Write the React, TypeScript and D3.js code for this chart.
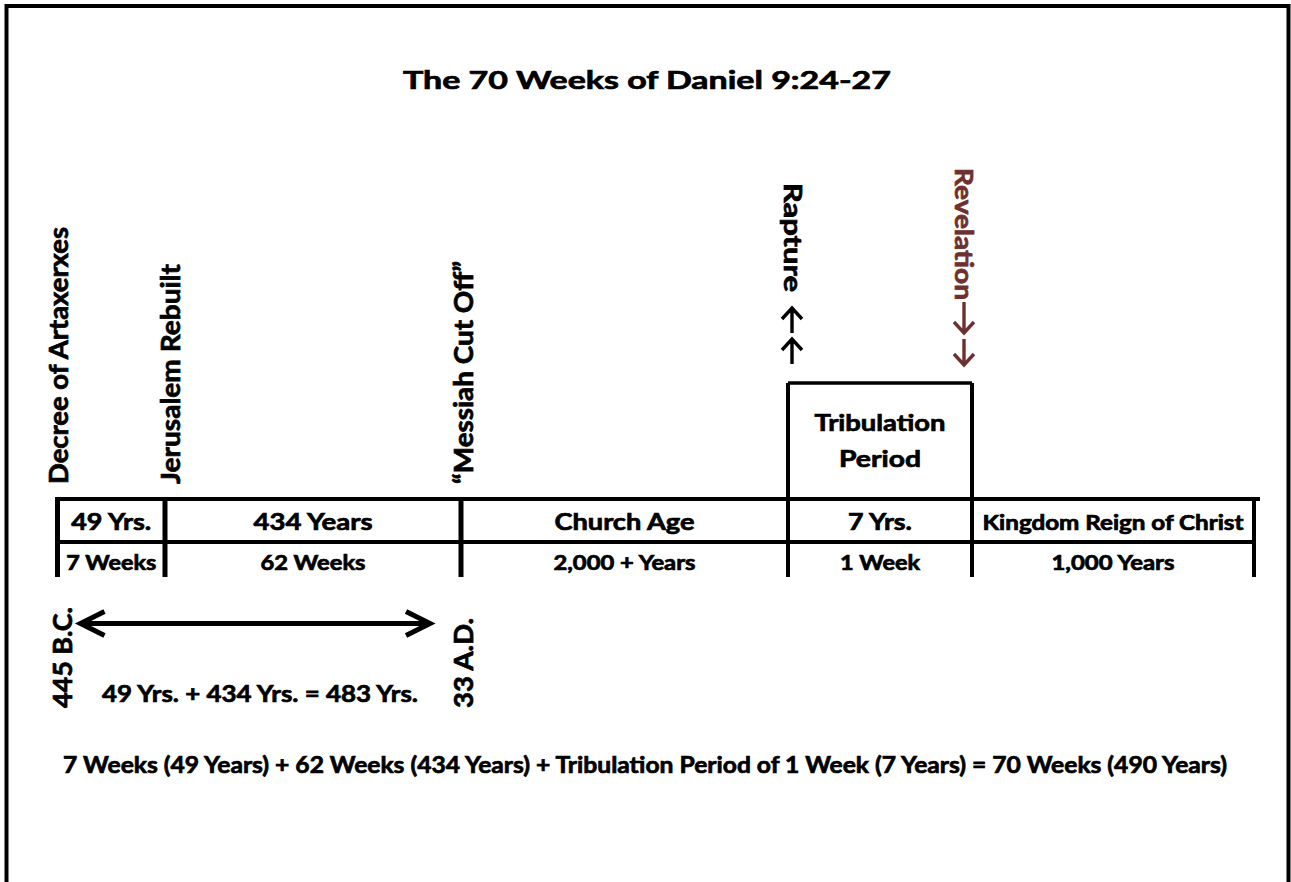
import * as d3 from "d3";

// timeline boundaries (index of each division line)
const boundaries = [0, 1, 2, 3, 4, 5];
const periodTop = ["49 Yrs.", "434 Years", "Church Age", "7 Yrs.", "Kingdom Reign of Christ"];
const periodBottom = ["7 Weeks", "62 Weeks", "2,000 + Years", "1 Week", "1,000 Years"];
const eventLabels = ["Decree of Artaxerxes", "Jerusalem Rebuilt", "\u201CMessiah Cut Off\u201D"];
const eventAt = [0, 1, 2];
const dateLabels = ["445 B.C.", "33 A.D."];
const dateAt = [0, 2];
const title = "The 70 Weeks of Daniel 9:24-27";
const sumLabel = "49 Yrs. + 434 Yrs. = 483 Yrs.";
const totalLabel =
  "7 Weeks (49 Years) + 62 Weeks (434 Years) + Tribulation Period of 1 Week (7 Years) = 70 Weeks (490 Years)";
const tribLabel = ["Tribulation", "Period"];

const W = 1291;
const H = 882;
const FONT = "Lato, 'Open Sans', sans-serif";
const RED = "#6e302e";
const TS = 0.7; // extra stroke to thicken glyphs

const x = d3.scaleLinear().domain(boundaries).range([57.5, 165, 461, 788, 972, 1254]);

const topW = [80, 119, 140, 64, 261];
const botW = [90, 105, 142, 80, 123];
const eventDx = [10.5, 15, 12];
const eventLen = [257, 220, 223];
const dateDx = [14.5, 12];
const dateLen = [101, 90];

const yTop = 499;
const yMid = 542;
const yBot = 577;
const yBox = 383;

// chevron arrow, dir = -1 up, 1 down
const arrowPath = (cx: number, y0: number, y1: number, dir: number) => {
  const tip = dir < 0 ? y0 : y1;
  const tail = dir < 0 ? y1 : y0;
  const h = 11;
  return `M${cx},${tail}V${tip}M${cx - 10},${tip - dir * h}L${cx},${tip}L${cx + 10},${tip - dir * h}`;
};

export default function App() {
  const mids = periodTop.map((_, i) => (x(i) + x(i + 1)) / 2);
  const ax0 = x(0) + 23;
  const ax1 = x(2) - 31;
  const ay = 623.5;

  return (
    <svg
      width={W}
      height={H}
      style={{ position: "absolute", left: 0, top: 0, background: "#fff", display: "block" }}
      fontFamily={FONT}
      fontWeight={700}
    >
      {/* frame */}
      <path d={`M6.5,${H}V6H1288.5V${H}`} fill="none" stroke="#000" strokeWidth={4} />

      {/* timeline frame */}
      <line x1={x(0) - 2.5} x2={1260} y1={yTop} y2={yTop} stroke="#000" strokeWidth={4} />
      <line x1={x(0) - 2.5} x2={x(5) + 2} y1={yMid} y2={yMid} stroke="#000" strokeWidth={4} />
      {boundaries.map((b) => (
        <line
          key={b}
          x1={x(b)}
          x2={x(b)}
          y1={b === 3 || b === 4 ? yBox : yTop - 2}
          y2={yBot}
          stroke="#000"
          strokeWidth={b >= 3 ? 4 : 5}
        />
      ))}
      <line x1={x(3)} x2={x(4)} y1={yBox} y2={yBox} stroke="#000" strokeWidth={3.5} />

      <g stroke="#000" strokeWidth={TS}>
        <text x={647} y={89} fontSize={25} textAnchor="middle" textLength={488} lengthAdjust="spacingAndGlyphs">
          {title}
        </text>

        {periodTop.map((t, i) => (
          <text
            key={t}
            x={mids[i]}
            y={530}
            fontSize={i === 4 ? 20 : 23}
            textAnchor="middle"
            textLength={topW[i]}
            lengthAdjust="spacingAndGlyphs"
          >
            {t}
          </text>
        ))}
        {periodBottom.map((t, i) => (
          <text
            key={t}
            x={mids[i]}
            y={570}
            fontSize={20}
            textAnchor="middle"
            textLength={botW[i]}
            lengthAdjust="spacingAndGlyphs"
          >
            {t}
          </text>
        ))}

        {/* tribulation box label */}
        <text x={mids[3]} y={431} fontSize={23} textAnchor="middle" textLength={131} lengthAdjust="spacingAndGlyphs">
          {tribLabel[0]}
        </text>
        <text x={mids[3]} y={467} fontSize={23} textAnchor="middle" textLength={82} lengthAdjust="spacingAndGlyphs">
          {tribLabel[1]}
        </text>

        {/* event labels */}
        {eventLabels.map((t, i) => (
          <text
            key={t}
            transform={`translate(${x(eventAt[i]) + eventDx[i]},484) rotate(-90)`}
            fontSize={26}
            textLength={eventLen[i]}
            lengthAdjust="spacingAndGlyphs"
          >
            {t}
          </text>
        ))}

        {/* rapture / revelation */}
        <text
          transform={`translate(${x(3) - 4},183) rotate(90)`}
          fontSize={25}
          textLength={109}
          lengthAdjust="spacingAndGlyphs"
        >
          Rapture
        </text>
        <text
          transform={`translate(${x(4) - 17},168) rotate(90)`}
          fontSize={25}
          fill={RED}
          stroke={RED}
          textLength={132}
          lengthAdjust="spacingAndGlyphs"
        >
          Revelation
        </text>

        {dateLabels.map((t, i) => (
          <text
            key={t}
            transform={`translate(${x(dateAt[i]) + dateDx[i]},708) rotate(-90)`}
            fontSize={26}
            textLength={dateLen[i]}
            lengthAdjust="spacingAndGlyphs"
          >
            {t}
          </text>
        ))}
        <text x={260} y={702} fontSize={23} textAnchor="middle" textLength={316} lengthAdjust="spacingAndGlyphs">
          {sumLabel}
        </text>

        <text x={645} y={773} fontSize={23} textAnchor="middle" textLength={1164} lengthAdjust="spacingAndGlyphs">
          {totalLabel}
        </text>
      </g>

      <path d={arrowPath(x(3) + 4, 308, 333, -1)} fill="none" stroke="#000" strokeWidth={3.4} />
      <path d={arrowPath(x(3) + 4, 339, 364, -1)} fill="none" stroke="#000" strokeWidth={3.4} />
      <path d={arrowPath(x(4) - 8, 302, 333, 1)} fill="none" stroke={RED} strokeWidth={3.4} />
      <path d={arrowPath(x(4) - 8, 339, 365, 1)} fill="none" stroke={RED} strokeWidth={3.4} />

      {/* span arrow 445 B.C. to 33 A.D. */}
      <path
        d={`M${ax0},${ay}H${ax1}M${ax0 + 24},${ay - 12}L${ax0},${ay}L${ax0 + 24},${ay + 12}M${ax1 - 24},${ay - 12}L${ax1},${ay}L${ax1 - 24},${ay + 12}`}
        fill="none"
        stroke="#000"
        strokeWidth={5}
      />
    </svg>
  );
}
